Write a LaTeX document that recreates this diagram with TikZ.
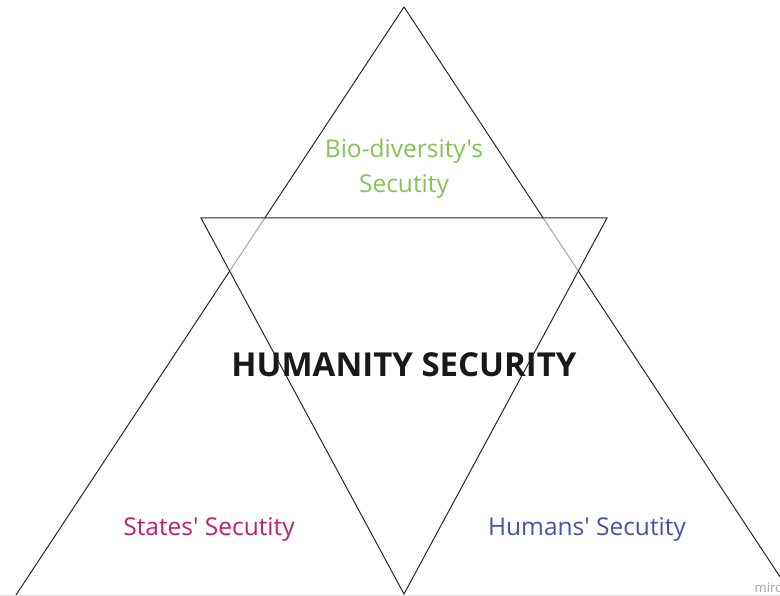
\documentclass[tikz,border=0pt]{standalone}
\usepackage{fontspec}
\setmainfont{Open Sans}[Ligatures=TeXOff]
\definecolor{bioGreen}{RGB}{132,196,84}
\definecolor{stateMag}{RGB}{196,30,110}
\definecolor{humBlue}{RGB}{72,82,170}
\definecolor{edgeDark}{RGB}{40,40,40}
\definecolor{edgeLight}{RGB}{165,165,165}
\tikzset{
  edge/.style={draw=edgeDark, line width=1pt},
  inner edge/.style={draw=edgeLight, line width=1pt},
  label/.style={inner sep=0pt, font=\fontsize{24.5}{35}\selectfont, align=center},
}
\begin{document}
\begin{tikzpicture}[x=1pt, y=-1pt]
\useasboundingbox (0,0) rectangle (780,596);
\fill[white] (0,0) rectangle (780,596);
\begin{scope}
\clip (0,0) rectangle (780,596);
% big triangle
\coordinate (A) at (404,7);
\coordinate (BL) at (16,595);
\coordinate (BR) at (792,595);
% inverted triangle
\coordinate (TL) at (201,218);
\coordinate (TR) at (607,218);
\coordinate (B) at (404,594);
% intersections
\coordinate (P1) at (264.8,218);
\coordinate (P2) at (543.2,218);
\coordinate (Q1) at (229.6,271.2);
\coordinate (Q2) at (578.4,271.2);
\draw[draw=black!12, line width=1pt] (0,595.5) -- (780,595.5);
\draw[edge] (A) -- (P1);
\draw[inner edge] (P1) -- (Q1);
\draw[edge] (Q1) -- (BL);
\draw[edge] (A) -- (P2);
\draw[inner edge] (P2) -- (Q2);
\draw[edge] (Q2) -- (BR);
\draw[edge] (TL) -- (TR) -- (B) -- cycle;
\node[label, text=bioGreen, anchor=base] (bio) at (404,193) {Bio-diversity's\\Secutity};
\node[label, text=stateMag, anchor=base] (states) at (209,535) {States' Secutity};
\node[label, text=humBlue, anchor=base] (humans) at (587,535) {Humans' Secutity};
\node[inner sep=0pt, anchor=base, font=\fontsize{33}{40}\selectfont\bfseries, text=black!90] (hum) at (404,377) {HUMANITY SECURITY};
\node[inner sep=0pt, anchor=base west, font=\fontsize{13}{15}\selectfont, text=black!35] (miro) at (754.5,592) {miro};
\end{scope}
\end{tikzpicture}
\end{document}
